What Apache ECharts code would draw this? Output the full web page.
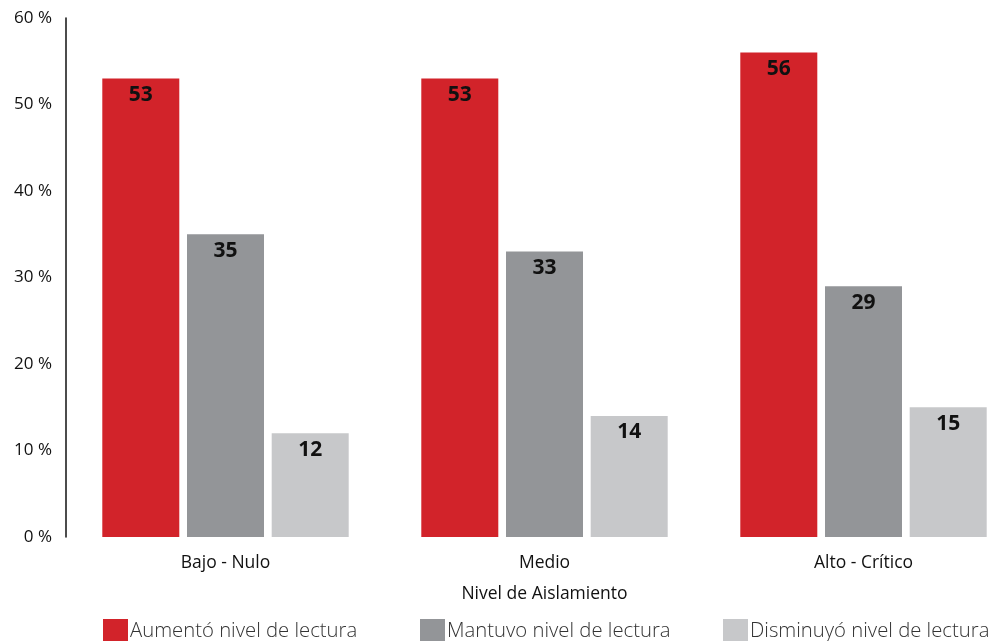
<!DOCTYPE html>
<html>
<head>
<meta charset="utf-8">
<script src="https://cdn.jsdelivr.net/npm/echarts@6/dist/echarts.min.js"></script>
<style>
  html, body { margin: 0; padding: 0; background: #fff; }
  #chart { width: 989px; height: 641px; }
</style>
</head>
<body>
<div id="chart"></div>
<script>
// categorias del eje x
var categories = ['Bajo - Nulo', 'Medio', 'Alto - Crítico'];
var yTicks = [0, 10, 20, 30, 40, 50, 60];
// valores en %
var aumento = [53, 53, 56];
var mantuvo = [35, 33, 29];
var disminuyo = [12, 14, 15];
var seriesNames = ['Aumentó nivel de lectura', 'Mantuvo nivel de lectura', 'Disminuyó nivel de lectura'];

var colors = ['#D2232A', '#939598', '#C7C8CA'];
var font = "'Open Sans', 'Noto Sans', sans-serif";

function barSeries(name, data, color) {
  return {
    name: name,
    type: 'bar',
    data: data,
    barWidth: 77,
    barGap: '10%',
    itemStyle: { color: color },
    label: {
      show: true,
      position: 'insideTop',
      distance: 6,
      color: '#111',
      fontWeight: 'bold',
      fontSize: 21,
      fontFamily: font
    }
  };
}

var myChart = echarts.init(document.getElementById('chart'));
var legendBase = {
  top: 614,
  itemWidth: 25,
  itemHeight: 25,
  itemGap: 0,
  icon: 'rect',
  textStyle: { fontSize: 20.3, fontWeight: 300, color: '#333', fontFamily: font, padding: [0, 0, 0, -3] }
};
var option = {
  animation: false,
  grid: { left: 66, top: 18, width: 957, height: 519, outerBoundsMode: 'none', containLabel: false },
  legend: [
    Object.assign({ left: 98, data: [seriesNames[0]] }, legendBase),
    Object.assign({ left: 415, data: [seriesNames[1]] }, legendBase),
    Object.assign({ left: 718, data: [seriesNames[2]] }, legendBase)
  ],
  xAxis: {
    type: 'category',
    data: categories,
    name: 'Nivel de Aislamiento',
    nameLocation: 'middle',
    nameGap: 48,
    nameTextStyle: { fontSize: 17.5, color: '#111', fontFamily: font },
    axisLine: { show: false },
    axisTick: { show: false },
    axisLabel: { fontSize: 17.5, color: '#111', margin: 17, fontFamily: font }
  },
  yAxis: {
    type: 'value',
    min: yTicks[0],
    max: yTicks[yTicks.length - 1],
    interval: 10,
    axisLine: { show: true, lineStyle: { color: '#111', width: 1.5 } },
    axisTick: { show: false },
    splitLine: { show: false },
    axisLabel: { formatter: '{value} %', fontSize: 17, color: '#111', margin: 14, fontFamily: font }
  },
  series: [
    barSeries(seriesNames[0], aumento, colors[0]),
    barSeries(seriesNames[1], mantuvo, colors[1]),
    barSeries(seriesNames[2], disminuyo, colors[2])
  ]
};
myChart.setOption(option);
</script>
</body>
</html>
